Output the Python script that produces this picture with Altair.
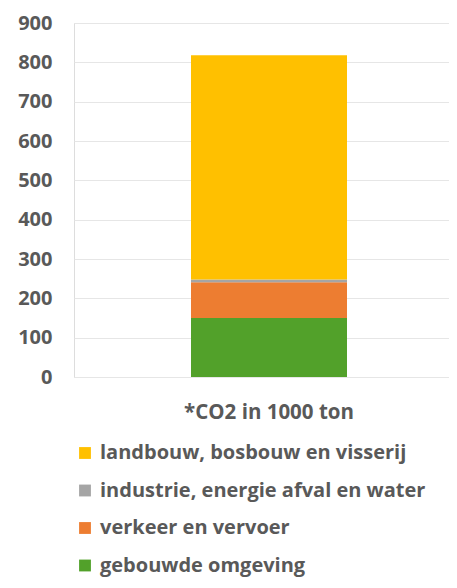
import altair as alt
import pandas as pd

categories = ["*CO2 in 1000 ton"] * 4
sectors = ["gebouwde omgeving", "verkeer en vervoer", "industrie, energie afval en water", "landbouw, bosbouw en visserij"]
values = [150, 91, 7, 570]
stack_rank = [1, 2, 3, 4]
legend_order = ["landbouw, bosbouw en visserij", "industrie, energie afval en water", "verkeer en vervoer", "gebouwde omgeving"]
legend_colors = ["#FFC000", "#A5A5A5", "#ED7D31", "#52A12A"]

df = pd.DataFrame({"cat": categories, "sector": sectors, "value": values, "rank": stack_rank})

font = "Open Sans"
txt = "#595959"

chart = alt.Chart(df).mark_bar(size=156).encode(
    x=alt.X("cat:N", title=None,
            scale=alt.Scale(paddingInner=0, paddingOuter=0.5, align=0.54),
            axis=alt.Axis(labelAngle=0, labelFontSize=20.5, labelColor=txt, labelFont=font,
                          labelFontWeight="bold", grid=False,
                          ticks=False, domain=False, labelPadding=25)),
    y=alt.Y("value:Q", title=None, stack="zero",
            scale=alt.Scale(domain=[0, 900], nice=False),
            axis=alt.Axis(values=[0, 100, 200, 300, 400, 500, 600, 700, 800, 900],
                          labelFontSize=20, labelColor=txt, labelFont=font, labelFontWeight="bold",
                          ticks=False, domain=False, labelPadding=22,
                          gridColor="#e6e6e6", gridWidth=1.2)),
    color=alt.Color("sector:N", scale=alt.Scale(domain=legend_order, range=legend_colors),
                    legend=alt.Legend(title=None, orient="none", legendX=1, legendY=420,
                                      symbolType="square", symbolSize=140, symbolStrokeWidth=0,
                                      labelFontSize=20, labelColor=txt, labelFont=font,
                                      labelFontWeight="bold", labelLimit=400,
                                      rowPadding=17.5, labelOffset=5)),
    order=alt.Order("rank:Q", sort="ascending"),
).properties(
    width=375, height=354,
    autosize=alt.AutoSizeParams(type="none"),
    padding={"left": 66, "top": 15, "right": 0, "bottom": 203},
).configure_view(strokeWidth=0).configure(background="white")

chart.save("out.html", embed_options={"renderer": "svg", "actions": False})
